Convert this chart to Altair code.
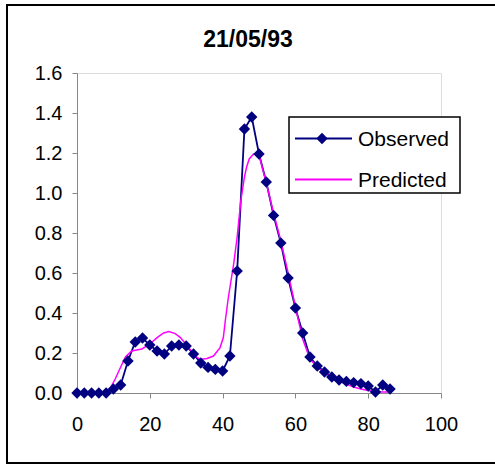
import altair as alt
import pandas as pd

# ---- data -------------------------------------------------------------
chart_title = "21/05/93"
series_names = ["Observed", "Predicted"]
series_colors = ["#000080", "#FF00FF"]

obs_x = [0, 2, 4, 6, 8, 10, 12, 14, 16, 18, 20, 22, 24, 26, 28, 30, 32, 34,
         36, 38, 40, 42, 44, 46, 48, 50, 52, 54, 56, 58, 60, 62, 64, 66, 68,
         70, 72, 74, 76, 78, 80, 82, 84, 86]
obs_y = [0.0, 0.0, 0.0, 0.0, 0.0, 0.02, 0.04, 0.16, 0.255, 0.275, 0.24, 0.21,
         0.195, 0.235, 0.24, 0.235, 0.195, 0.15, 0.128, 0.118, 0.11, 0.185,
         0.61, 1.32, 1.38, 1.195, 1.055, 0.888, 0.75, 0.575, 0.425, 0.30,
         0.18, 0.135, 0.105, 0.08, 0.065, 0.058, 0.052, 0.047, 0.035, 0.005,
         0.04, 0.02]

pred_x = [0, 2, 4, 6, 8, 9, 10.5, 12, 13.3, 15, 17.8, 19.7, 22, 23.8, 25.2,
          27, 28.4, 29.2, 31.1, 32.5, 33.8, 35.7, 37.5, 39.3, 40.2, 40.8, 41.6,
          43, 44, 45, 46, 46.6, 47.3, 48.5, 50, 52, 54, 56, 58, 60, 62, 64, 66,
          68, 70, 72, 74, 76, 78, 80, 82, 84, 86]
pred_y = [0.0, 0.0, 0.0, 0.0, 0.005, 0.02, 0.07, 0.13, 0.18, 0.21, 0.22, 0.24,
          0.277, 0.30, 0.307, 0.297, 0.277, 0.26, 0.218, 0.185, 0.168, 0.173,
          0.185, 0.227, 0.277, 0.37, 0.48, 0.64, 0.78, 0.96, 1.08, 1.13, 1.17,
          1.195, 1.19, 1.05, 0.90, 0.76, 0.60, 0.43, 0.27, 0.17, 0.13, 0.10,
          0.08, 0.06, 0.045, 0.03, 0.02, 0.012, 0.008, 0.005, 0.005]

x_ticks = [0, 20, 40, 60, 80, 100]
y_ticks = [0.0, 0.2, 0.4, 0.6, 0.8, 1.0, 1.2, 1.4, 1.6]

obs = pd.DataFrame({"t": obs_x, "v": obs_y, "series": series_names[0]})
pred = pd.DataFrame({"t": pred_x, "v": pred_y, "series": series_names[1]})

FONT = "Liberation Sans"
W, H = 364, 320

x_enc = alt.X(
    "t:Q",
    scale=alt.Scale(domain=[0, 100], nice=False, zero=False),
    axis=alt.Axis(values=x_ticks, title=None, grid=False, labelPadding=16,
                  labelFontSize=20, labelFlush=False, labelOverlap=False),
)
y_enc = alt.Y(
    "v:Q",
    scale=alt.Scale(domain=[0, 1.6], nice=False),
    axis=alt.Axis(values=y_ticks, format=".1f", title=None, grid=False,
                  labelPadding=10, labelFontSize=20, labelFlush=False,
                  labelOverlap=False),
)
color_enc = alt.Color(
    "series:N",
    scale=alt.Scale(domain=series_names, range=series_colors),
    legend=None,
)

# ---- outer frame and title ------------------------------------------------
frame = alt.Chart(pd.DataFrame({"a": [0]})).mark_rect(
    filled=False, stroke="black", strokeWidth=2
).encode(
    x=alt.value(-70), x2=alt.value(440), y=alt.value(-68), y2=alt.value(390)
)

title = alt.Chart(pd.DataFrame({"label": [chart_title]})).mark_text(
    font=FONT, fontSize=23, fontWeight="bold", align="center",
    baseline="alphabetic", color="black"
).encode(x=alt.value(171), y=alt.value(-26), text="label:N")

# ---- series ------------------------------------------------------------------
obs_line = alt.Chart(obs).mark_line(strokeWidth=1.8).encode(
    x=x_enc, y=y_enc, color=color_enc
)
pred_line = alt.Chart(pred).mark_line(strokeWidth=1.5).encode(
    x=x_enc, y=y_enc, color=color_enc
)
obs_pts = alt.Chart(obs).mark_point(
    shape="diamond", filled=True, size=130, opacity=1
).encode(x=x_enc, y=y_enc, color=color_enc)

# ---- legend ------------------------------------------------------------------
legend_layers = [
    alt.Chart(pd.DataFrame({"a": [0]})).mark_rect(
        fill="white", stroke="black", strokeWidth=1.5
    ).encode(x=alt.value(212), x2=alt.value(383), y=alt.value(44),
             y2=alt.value(120))
]
row_y = [65.5, 106.5]
for name, col, ry in zip(series_names, series_colors, row_y):
    row = pd.DataFrame({"label": [name]})
    legend_layers.append(
        alt.Chart(row).mark_rule(color=col, strokeWidth=1.8).encode(
            x=alt.value(218), x2=alt.value(275), y=alt.value(ry)
        )
    )
    if name == series_names[0]:
        legend_layers.append(
            alt.Chart(row).mark_point(
                shape="diamond", filled=True, size=130, opacity=1, color=col
            ).encode(x=alt.value(245), y=alt.value(ry))
        )
    legend_layers.append(
        alt.Chart(row).mark_text(
            font=FONT, fontSize=21, align="left", baseline="middle",
            color="black"
        ).encode(x=alt.value(281), y=alt.value(ry + 1), text="label:N")
    )

chart = alt.layer(
    frame, title, obs_line, pred_line, obs_pts, *legend_layers
).properties(
    width=W, height=H,
    autosize=alt.AutoSizeParams(type="none"),
    padding={"left": 77, "top": 73, "right": 54, "bottom": 73},
).configure_view(
    stroke="#808080", strokeWidth=1
).configure_axis(
    domainColor="black", domainWidth=1, tickColor="black", tickWidth=1,
    tickSize=5, labelColor="black", labelFont=FONT,
).configure(background="white")

chart.save("out.html", embed_options={"renderer": "svg", "actions": False})
